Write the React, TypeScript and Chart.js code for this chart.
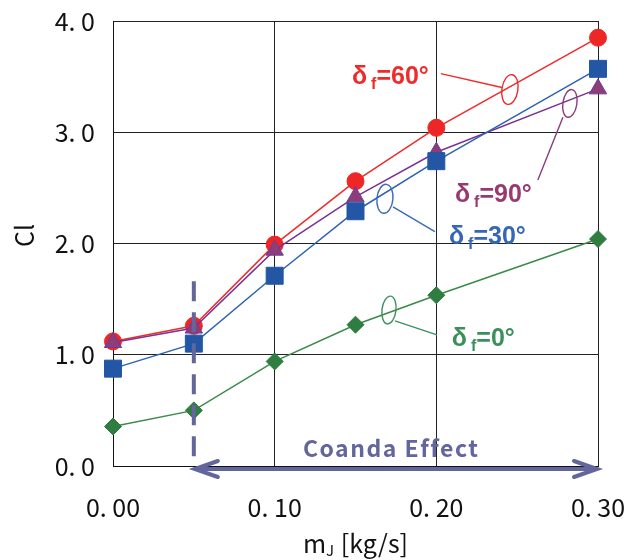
import React, { useEffect, useRef } from 'react';
import { Chart, registerables } from 'chart.js';

Chart.register(...registerables);

// ---- data ----
const massFlow = [0, 0.05, 0.1, 0.15, 0.2, 0.3];
const cl60 = [1.12, 1.26, 1.99, 2.56, 3.04, 3.85];
const cl90 = [1.11, 1.24, 1.94, 2.42, 2.82, 3.39];
const cl30 = [0.875, 1.1, 1.71, 2.29, 2.74, 3.57];
const cl0 = [0.355, 0.5, 0.94, 1.27, 1.535, 2.04];
const xTickValues = [0, 0.1, 0.2, 0.3];
const yTickValues = [0, 1, 2, 3, 4];
const seriesAngles = ['60', '90', '30', '0'];
const coandaRange = [0.05, 0.3];
const coandaLabel = 'Coanda Effect';
const dashTop = 1.66;

// callouts: label anchor (data units), leader line (data units), loop centre (data units)
const callouts = [
  { angle: seriesAngles[0], color: '#EE2A2A', tx: 0.1478, ty: 3.435, l: [0.2028, 3.527, 0.2406, 3.402], e: [0.2455, 3.384], rx: 8, ry: 15, rot: 0.15 },
  { angle: seriesAngles[1], color: '#983A70', lineColor: '#8A3B78', tx: 0.2115, ty: 2.375, l: [0.2628, 2.571, 0.2783, 3.134], e: [0.2826, 3.259], rx: 7, ry: 14, rot: 0.15 },
  { angle: seriesAngles[2], color: '#3566B8', lineColor: '#3A6AB8', tx: 0.2078, ty: 2.0, l: [0.1732, 2.33, 0.1991, 2.107], e: [0.1682, 2.402], rx: 8, ry: 14.5, rot: 0.1 },
  { angle: seriesAngles[3], color: '#3A8F5A', lineColor: '#3C9060', tx: 0.2096, ty: 1.08, l: [0.1744, 1.304, 0.2004, 1.179], e: [0.1707, 1.402], rx: 7, ry: 14, rot: 0.12 },
];

const TICK_FONT = '"Noto Sans CJK JP", "Noto Sans", sans-serif';
const LABEL_FONT = '"Liberation Sans", Arial, sans-serif';
const COANDA_COLOR = '#63669C';

const fmt = (v: number, d: number) => v.toFixed(d).replace('.', '. ');

const annotationPlugin = {
  id: 'annotations',
  afterDatasetsDraw(chart: any) {
    const { ctx, scales } = chart;
    const xs = scales.x;
    const ys = scales.y;
    const px = (v: number) => xs.getPixelForValue(v);
    const py = (v: number) => ys.getPixelForValue(v);
    ctx.save();

    // callouts
    callouts.forEach((c) => {
      const lc = c.lineColor || c.color;
      ctx.strokeStyle = lc;
      ctx.lineWidth = 1.4;
      ctx.beginPath();
      ctx.moveTo(px(c.l[0]), py(c.l[1]));
      ctx.lineTo(px(c.l[2]), py(c.l[3]));
      ctx.stroke();
      ctx.beginPath();
      ctx.ellipse(px(c.e[0]), py(c.e[1]), c.rx, c.ry, c.rot, 0, Math.PI * 2);
      ctx.stroke();

      const x0 = px(c.tx);
      const y0 = py(c.ty);
      ctx.fillStyle = c.color;
      ctx.textAlign = 'left';
      ctx.textBaseline = 'alphabetic';
      ctx.font = `bold 25px ${LABEL_FONT}`;
      ctx.fillText('δ', x0, y0);
      let w = ctx.measureText('δ').width + 4;
      ctx.font = `bold 16px ${LABEL_FONT}`;
      ctx.fillText('f', x0 + w, y0 + 5);
      w += ctx.measureText('f').width;
      ctx.font = `bold 25px ${LABEL_FONT}`;
      ctx.fillText('=' + c.angle + '°', x0 + w, y0);
    });

    // dashed vertical line at start of Coanda range
    ctx.strokeStyle = COANDA_COLOR;
    ctx.lineWidth = 4;
    ctx.setLineDash([20, 11]);
    ctx.beginPath();
    ctx.moveTo(px(coandaRange[0]), py(dashTop));
    ctx.lineTo(px(coandaRange[0]), py(0));
    ctx.stroke();
    ctx.setLineDash([]);

    // double arrow
    const ay = py(0) + 3;
    const ax1 = px(coandaRange[0]);
    const ax2 = px(coandaRange[1]);
    ctx.lineWidth = 4;
    ctx.lineCap = 'round';
    ctx.beginPath();
    ctx.moveTo(ax1 + 2, ay);
    ctx.lineTo(ax2 - 2, ay);
    ctx.stroke();
    ctx.beginPath();
    ctx.moveTo(ax1 + 24, ay - 8);
    ctx.lineTo(ax1 + 1, ay);
    ctx.lineTo(ax1 + 24, ay + 8);
    ctx.moveTo(ax2 - 24, ay - 8);
    ctx.lineTo(ax2 - 1, ay);
    ctx.lineTo(ax2 - 24, ay + 8);
    ctx.stroke();

    ctx.fillStyle = COANDA_COLOR;
    ctx.font = `bold 23px ${TICK_FONT}`;
    (ctx as any).letterSpacing = '1.5px';
    ctx.textAlign = 'left';
    ctx.fillText(coandaLabel, px(0.1175), py(0.08));
    (ctx as any).letterSpacing = '0px';

    // axis titles
    ctx.fillStyle = '#111';
    ctx.font = `25px ${TICK_FONT}`;
    ctx.textAlign = 'center';
    ctx.textBaseline = 'middle';
    ctx.save();
    ctx.translate(16.5, (chart.chartArea.top + chart.chartArea.bottom) / 2 - 8);
    ctx.rotate(-Math.PI / 2);
    ctx.fillText('Cl', 0, 0);
    ctx.restore();

    const cx = (chart.chartArea.left + chart.chartArea.right) / 2;
    const by = 545;
    ctx.textBaseline = 'alphabetic';
    ctx.textAlign = 'left';
    ctx.font = `25px ${TICK_FONT}`;
    const mW = ctx.measureText('m').width;
    ctx.font = `15px ${TICK_FONT}`;
    const jW = ctx.measureText('J').width;
    ctx.font = `25px ${TICK_FONT}`;
    const restText = ' [kg/s]';
    const rW = ctx.measureText(restText).width;
    let sx = cx - (mW + jW + 1 + rW) / 2;
    ctx.fillText('m', sx, by);
    sx += mW;
    ctx.font = `15px ${TICK_FONT}`;
    ctx.fillText('J', sx, by + 3);
    sx += jW + 1;
    ctx.font = `25px ${TICK_FONT}`;
    ctx.fillText(restText, sx, by);

    ctx.restore();
  },
};

export default function App() {
  const canvasRef = useRef<HTMLCanvasElement | null>(null);

  useEffect(() => {
    if (!canvasRef.current) return;
    const mk = (label: string, data: number[], color: string, fill: string, style: string, radius: number, border: string) => ({
      label,
      data: massFlow.map((x, i) => ({ x, y: data[i] })),
      borderColor: color,
      backgroundColor: fill,
      pointBackgroundColor: fill,
      pointBorderColor: border,
      pointBorderWidth: 1,
      borderWidth: 1.5,
      pointStyle: style,
      pointRadius: radius,
      pointHoverRadius: radius,
      tension: 0,
      clip: false as any,
    });

    const chart = new Chart(canvasRef.current, {
      type: 'line',
      data: {
        datasets: [
          mk('δf=0°', cl0, '#3A8A48', '#2F7D40', 'rectRot', 8.5, '#2F7D40'),
          mk('δf=30°', cl30, '#2E62B2', '#2456A6', 'rect', 12, '#2456A6'),
          mk('δf=90°', cl90, '#7B3294', '#8D3D78', 'triangle', 10, '#6E3C98'),
          mk('δf=60°', cl60, '#F02A2A', '#EE2626', 'circle', 8.5, '#EE2626'),
        ] as any,
      },
      plugins: [annotationPlugin as any],
      options: {
        animation: false,
        responsive: true,
        maintainAspectRatio: false,
        layout: { padding: { top: 10, right: 30, left: 0, bottom: 0 } },
        plugins: { legend: { display: false }, tooltip: { enabled: false } },
        scales: {
          x: {
            type: 'linear',
            min: 0,
            max: 0.3,
            afterBuildTicks: (s: any) => {
              s.ticks = xTickValues.map((v) => ({ value: v }));
            },
            afterFit: (s: any) => {
              s.height = 94;
              s.paddingLeft = 0;
              s.paddingRight = 0;
            },
            ticks: {
              color: '#111',
              font: { family: TICK_FONT, size: 25 },
              padding: 26,
              maxRotation: 0,
              autoSkip: false,
              callback: (v: any) => fmt(Number(v), 2),
            },
            grid: { color: '#222', lineWidth: 1, drawTicks: false },
            border: { color: '#111', width: 1 },
          },
          y: {
            type: 'linear',
            min: 0,
            max: 4,
            afterBuildTicks: (s: any) => {
              s.ticks = yTickValues.map((v) => ({ value: v }));
            },
            afterFit: (s: any) => {
              s.width = 105;
              s.paddingTop = 0;
              s.paddingBottom = 0;
            },
            ticks: {
              color: '#111',
              font: { family: TICK_FONT, size: 25 },
              padding: 18,
              callback: (v: any) => fmt(Number(v), 1),
            },
            grid: { color: '#222', lineWidth: 1, drawTicks: false },
            border: { color: '#111', width: 1 },
          },
        },
      },
    });
    return () => chart.destroy();
  }, []);

  return (
    <div style={{ width: 620, height: 552, position: 'relative' }}>
      <canvas ref={canvasRef} />
    </div>
  );
}
